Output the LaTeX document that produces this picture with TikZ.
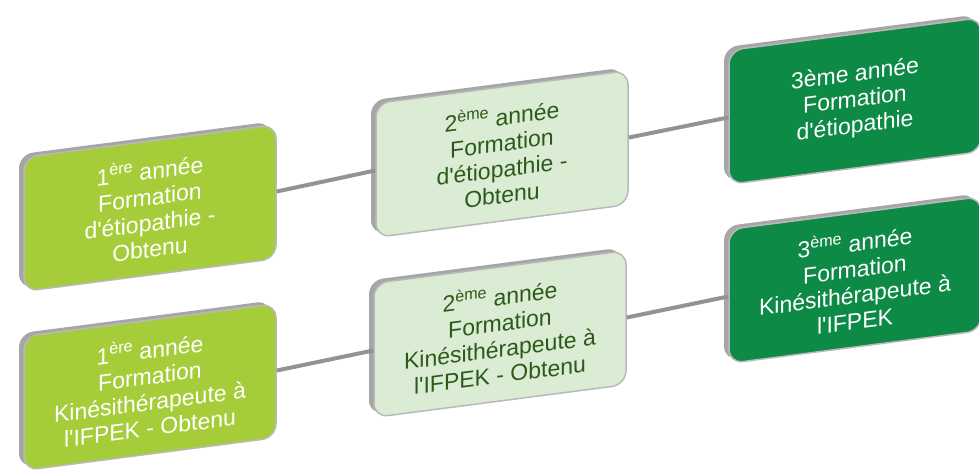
\documentclass[tikz,border=0pt]{standalone}
\usepackage{fontspec}
\setmainfont{Liberation Sans}[Ligatures=TeXOff]
\usetikzlibrary{shadows}

\definecolor{vertclair}{HTML}{A5CD39}
\definecolor{vertpale}{HTML}{DAECD4}
\definecolor{vertfonce}{HTML}{0D8A45}
\definecolor{textefonce}{HTML}{2D5A1B}

\begin{document}
\begin{tikzpicture}[x=1pt,y=1pt,
    annee/.style={rectangle,rounded corners=14pt,minimum width=252pt,minimum height=134pt,
      align=center,font=\fontsize{23}{26}\selectfont,yslant=0.13,
      draw=gray!55,line width=1.5pt,
      drop shadow={shadow xshift=-5pt,shadow yshift=3pt,fill=gray!70,opacity=1}},
    lien/.style={draw=gray!85,line width=4pt}]
    \useasboundingbox (0,0) rectangle (979,470);
    % etiopathie
    \node[annee,fill=vertclair,text=white] (etio1) at (150,262) {1\textsuperscript{ère} année\\Formation\\d'étiopathie -\\Obtenu};
    \node[annee,fill=vertpale,text=textefonce] (etio2) at (502,316) {2\textsuperscript{ème} année\\Formation\\d'étiopathie -\\Obtenu};
    \node[annee,fill=vertfonce,text=white] (etio3) at (855,369) {3ème année\\Formation\\d'étiopathie};
    \draw[lien] (etio1.east) -- (etio2.west);
    \draw[lien] (etio2.east) -- (etio3.west);
    % kinesitherapie
    \node[annee,fill=vertclair,text=white] (kine1) at (150,83) {1\textsuperscript{ère} année\\Formation\\Kinésithérapeute à\\l'IFPEK - Obtenu};
    \node[annee,fill=vertpale,text=textefonce] (kine2) at (500,136) {2\textsuperscript{ème} année\\Formation\\Kinésithérapeute à\\l'IFPEK - Obtenu};
    \node[annee,fill=vertfonce,text=white] (kine3) at (855,190) {3\textsuperscript{ème} année\\Formation\\Kinésithérapeute à\\l'IFPEK};
    \draw[lien] (kine1.east) -- (kine2.west);
    \draw[lien] (kine2.east) -- (kine3.west);
\end{tikzpicture}
\end{document}
